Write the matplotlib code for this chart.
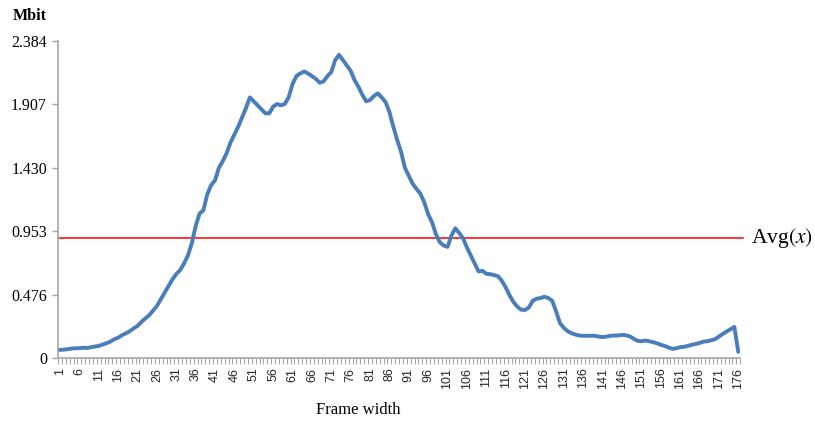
import matplotlib
matplotlib.use("Agg")
import matplotlib.pyplot as plt
import numpy as np

# Bit demand (Mbit) for each frame width 1..176
frame_width = list(range(1, 177))
mbit = [
    0.060, 0.062, 0.065, 0.070, 0.072, 0.073, 0.076, 0.074, 0.080, 0.085,
    0.090, 0.100, 0.110, 0.122, 0.140, 0.152, 0.170, 0.185, 0.200, 0.222,
    0.240, 0.270, 0.296, 0.320, 0.355, 0.390, 0.440, 0.490, 0.540, 0.590,
    0.630, 0.660, 0.710, 0.770, 0.860, 0.990, 1.085, 1.110, 1.230, 1.300,
    1.335, 1.430, 1.480, 1.540, 1.620, 1.680, 1.740, 1.810, 1.880, 1.960,
    1.930, 1.900, 1.870, 1.840, 1.840, 1.890, 1.910, 1.900, 1.910, 1.960,
    2.060, 2.120, 2.140, 2.155, 2.140, 2.120, 2.100, 2.070, 2.080, 2.120,
    2.150, 2.240, 2.280, 2.240, 2.200, 2.160, 2.090, 2.040, 1.980, 1.930,
    1.940, 1.970, 1.990, 1.960, 1.925, 1.850, 1.740, 1.640, 1.550, 1.430,
    1.370, 1.310, 1.270, 1.235, 1.170, 1.080, 1.020, 0.930, 0.870, 0.845,
    0.835, 0.920, 0.975, 0.940, 0.900, 0.830, 0.770, 0.710, 0.650, 0.655,
    0.632, 0.630, 0.622, 0.615, 0.580, 0.530, 0.470, 0.420, 0.385, 0.362,
    0.360, 0.380, 0.430, 0.445, 0.450, 0.460, 0.450, 0.430, 0.350, 0.262,
    0.225, 0.200, 0.185, 0.175, 0.168, 0.166, 0.166, 0.166, 0.166, 0.160,
    0.156, 0.160, 0.166, 0.168, 0.168, 0.173, 0.170, 0.162, 0.145, 0.128,
    0.125, 0.130, 0.125, 0.118, 0.110, 0.098, 0.090, 0.078, 0.068, 0.072,
    0.080, 0.083, 0.090, 0.098, 0.104, 0.112, 0.122, 0.125, 0.132, 0.140,
    0.160, 0.180, 0.198, 0.215, 0.233, 0.045,
]
average = 0.90
y_ticks = [0, 0.476, 0.953, 1.430, 1.907, 2.384]
y_tick_labels = ["0", "0.476", "0.953", "1.430", "1.907", "2.384"]
x_label_step = 5

plt.rcParams["mathtext.fontset"] = "stix"

fig = plt.figure(figsize=(8.15, 4.25), dpi=100)
ax = fig.add_axes([0.0712, 0.158, 0.837, 0.7455])

ax.plot(frame_width, mbit, color="#4A7EBB", lw=2.8, solid_joinstyle="round",
        solid_capstyle="round", zorder=3)
ax.axhline(average, xmin=0, xmax=1.004, color="#FF0000", lw=1.1, clip_on=False, zorder=2)

ax.set_xlim(0.5, len(frame_width) + 0.5)
ax.set_ylim(0, y_ticks[-1])

for s in ("top", "right"):
    ax.spines[s].set_visible(False)
for s in ("left", "bottom"):
    ax.spines[s].set_color("#A6A6A6")
    ax.spines[s].set_linewidth(1.2)

# y axis
ax.set_yticks(y_ticks)
ax.set_yticklabels(y_tick_labels, family="Liberation Serif", fontsize=11.5)
ax.tick_params(axis="y", direction="out", length=4, width=1, color="#A6A6A6", pad=4)

# x axis: tick marks between categories, labels every 5th category
ax.set_xticks(np.arange(0.5, len(frame_width) + 1, 1.0), minor=True)
label_pos = frame_width[::x_label_step]
ax.set_xticks(label_pos)
ax.set_xticklabels([str(v) for v in label_pos], rotation=90,
                   family="Liberation Sans", fontsize=9, color="#262626")
ax.tick_params(axis="x", which="major", length=0, pad=7)
ax.tick_params(axis="x", which="minor", direction="out", length=4, width=0.8,
               color="#A6A6A6")

fig.text(0.016, 0.963, "Mbit", family="Liberation Serif", fontweight="bold",
         fontsize=11.5, va="center", ha="left")
fig.text(0.44, 0.035, "Frame width", family="Liberation Serif", fontsize=12,
         ha="center", va="center")
fig.text(0.922, 1 - 238 / 425, r"Avg$(x)$", family="Liberation Serif", fontsize=15.5,
         ha="left", va="center")

fig.savefig("out.png", dpi=100)
